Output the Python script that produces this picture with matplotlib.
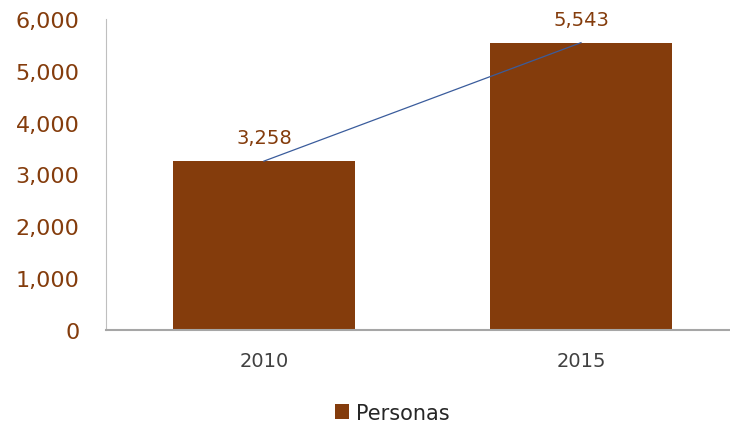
import numpy as np
import matplotlib.pyplot as plt

years = ['2010', '2015']
personas = [3258, 5543]
y_ticks = [0, 1000, 2000, 3000, 4000, 5000, 6000]

bar_color = '#843C0C'
label_color = '#843C0C'
plt.rcParams['font.family'] = ['DejaVu Sans']

fig = plt.figure(figsize=(7.3, 4.27), dpi=100)
ax = fig.add_axes([106 / 730, 1 - 331 / 427, 624 / 730, 311 / 427])

x = np.arange(len(years))
ax.bar(x, personas, width=0.574, color=bar_color, label='Personas', zorder=2)
ax.plot(x, personas, color='#3A5C9C', linewidth=0.9, zorder=3)

for xi, v in zip(x, personas):
    ax.text(xi, v + 270, f'{v:,}', ha='center', va='bottom',
            fontsize=14, color=label_color)

ax.set_xlim(-0.498, 1.47)
ax.set_ylim(0, 6000)
ax.set_xticks(x)
ax.set_xticklabels(years, fontsize=14, color='#404040')
ax.set_yticks(y_ticks)
ax.set_yticklabels([f'{t:,}' for t in y_ticks], fontsize=16, color=label_color)
ax.tick_params(length=0)
ax.tick_params(axis='x', pad=15)
ax.tick_params(axis='y', pad=19)

for s in ['top', 'right']:
    ax.spines[s].set_visible(False)
ax.spines['left'].set_color('#BFBFBF')
ax.spines['bottom'].set_color('#A6A6A6')
ax.spines['bottom'].set_linewidth(1.5)

leg = fig.legend(loc='center', bbox_to_anchor=(392 / 730, 1 - 414 / 427), frameon=False,
                 fontsize=15, handlelength=0.7, handleheight=0.7, handletextpad=0.3)
for t in leg.get_texts():
    t.set_color('#262626')

fig.savefig('out.png', dpi=100)
